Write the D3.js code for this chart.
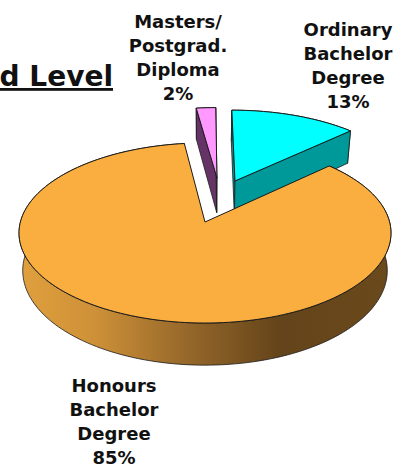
<!DOCTYPE html>
<html>
<head>
<meta charset="utf-8">
<script src="https://cdn.jsdelivr.net/npm/d3@7"></script>
<style>
  html, body { margin: 0; padding: 0; background: #fff; }
  svg { display: block; }
  text { font-family: "DejaVu Sans", sans-serif; font-weight: bold; fill: #111; }
</style>
</head>
<body>
<div id="chart"></div>
<script>
// -------- Data --------
const categories = ['Ordinary Bachelor Degree', 'Honours Bachelor Degree', 'Masters/ Postgrad. Diploma'];
const values = [13, 85, 2];
const labelLines = [
  ['Ordinary', 'Bachelor', 'Degree', '13%'],
  ['Honours', 'Bachelor', 'Degree', '85%'],
  ['Masters/', 'Postgrad.', 'Diploma', '2%']
];
const titleText = 'd Level';

// -------- Styling --------
const topColors = ['#00ffff', '#fbae40', '#ff99ff'];
const sideColors = ['#009999', 'url(#orangeSide)', '#663366'];
const labelPos = [[348, 36], [114, 392], [178, 28]];
const explode = [[0.172, -0.49], [0, 0], [0.069, -0.53]]; // ground plane offsets

// -------- Dimensions --------
const svgWidth = 407, svgHeight = 467;
const cx = 205, cy = 222;
const rx = 184.6, ry = 88.7;
const persp = 0.122;   // perspective strength
const depth = 37;
const bottomScale = 0.98;

const svg = d3.select('#chart').append('svg')
    .attr('width', svgWidth)
    .attr('height', svgHeight);

const grad = svg.append('defs').append('linearGradient')
    .attr('id', 'orangeSide')
    .attr('gradientUnits', 'userSpaceOnUse')
    .attr('x1', 19).attr('x2', 391).attr('y1', 0).attr('y2', 0);
[[0, '#e0a03e'], [0.2, '#cf9138'], [0.45, '#96682a'], [0.7, '#64441a'], [1, '#6a491c']]
  .forEach(([o, c]) => grad.append('stop').attr('offset', o).attr('stop-color', c));

// -------- Projection of the pie plane --------
const project = (u, v, lower) => {
  const s = 1 / (1 - persp * v);
  const x = rx * u * s, y = ry * v * s;
  return lower
    ? [cx + x * bottomScale, cy + y + depth * s]
    : [cx + x, cy + y];
};

const pie = d3.pie().sort(null).value(d => d).startAngle(0).endAngle(2 * Math.PI);
const arcs = pie(values);
const line = d3.line();

// rim points of a slice, in the ground plane
const rim = (a, off) => {
  const n = Math.max(2, Math.ceil((a.endAngle - a.startAngle) / 0.03));
  return d3.range(n + 1).map(i => {
    const t = a.startAngle + (a.endAngle - a.startAngle) * i / n;
    return [Math.sin(t) + off[0], -Math.cos(t) + off[1]];
  });
};

// -------- Slices, back ones first --------
[2, 0, 1].forEach(i => {
  const off = explode[i];
  const pts = rim(arcs[i], off);
  const g = svg.append('g').attr('stroke', '#1a1a1a').attr('stroke-linejoin', 'round');
  const first = pts[0], last = pts[pts.length - 1];

  // outer wall
  const upper = pts.map(p => project(p[0], p[1]));
  const lower = pts.map(p => project(p[0], p[1], true)).reverse();
  g.append('path')
    .attr('d', line(upper.concat(lower)) + 'Z')
    .attr('fill', sideColors[i])
    .attr('stroke-width', 0.8);

  // radial walls, the orange ones stay hidden under its top
  if (i !== 1) {
    [first, last].forEach(p => {
      const wall = [project(off[0], off[1]), project(p[0], p[1]), project(p[0], p[1], true), project(off[0], off[1], true)];
      g.append('path').attr('d', line(wall) + 'Z').attr('fill', sideColors[i]).attr('stroke-width', 0.8);
    });
  }

  // top face
  g.append('path')
    .attr('d', line([project(off[0], off[1])].concat(upper)) + 'Z')
    .attr('fill', topColors[i])
    .attr('stroke-width', 1);
});

// -------- Labels --------
labelLines.forEach((lines, i) => {
  const t = svg.append('text')
      .attr('aria-label', categories[i])
      .attr('text-anchor', 'middle')
      .style('font-size', '18px');
  lines.forEach((d, j) => {
    t.append('tspan')
      .attr('x', labelPos[i][0])
      .attr('y', labelPos[i][1] + j * 24)
      .text(d);
  });
});

// -------- Cut off title --------
svg.append('text')
    .attr('x', 113)
    .attr('y', 86)
    .attr('text-anchor', 'end')
    .style('font-size', '28px')
    .style('text-decoration', 'underline')
    .text(titleText);
</script>
</body>
</html>
